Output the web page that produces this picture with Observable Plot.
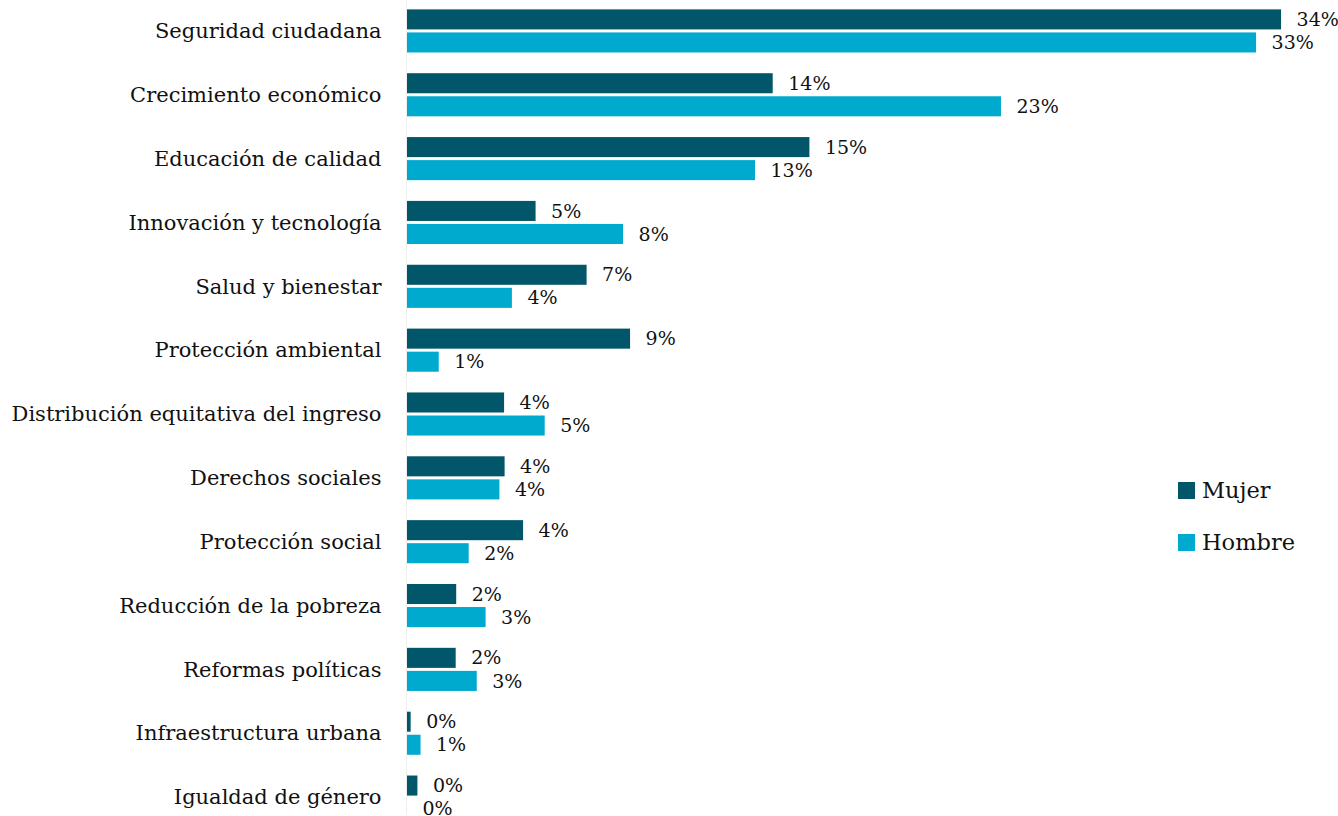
<!DOCTYPE html>
<html>
<head>
<meta charset="utf-8">
<script src="https://cdn.jsdelivr.net/npm/d3@7"></script>
<script src="https://cdn.jsdelivr.net/npm/@observablehq/plot@0.6"></script>
<style>
  html, body { margin: 0; padding: 0; background: #fff; overflow: hidden; }
  #wrap { position: relative; width: 1338px; height: 816px; }
  #chart svg { display: block; margin-top: -1px; }
  #legend { position: absolute; left: 1178px; top: 474px; font-family: "DejaVu Serif", serif; font-size: 22.5px; color: #111; }
  #legend .item { display: flex; align-items: center; height: 34px; margin-bottom: 18px; }
  #legend .sw { width: 17px; height: 17px; margin-right: 7px; }
</style>
</head>
<body>
<div id="wrap">
  <div id="chart"></div>
  <div id="legend"></div>
</div>
<script>
const categories = [
  "Seguridad ciudadana",
  "Crecimiento económico",
  "Educación de calidad",
  "Innovación y tecnología",
  "Salud y bienestar",
  "Protección ambiental",
  "Distribución equitativa del ingreso",
  "Derechos sociales",
  "Protección social",
  "Reducción de la pobreza",
  "Reformas políticas",
  "Infraestructura urbana",
  "Igualdad de género"
];
const series = ["Mujer", "Hombre"];
const colors = ["#02566a", "#00a9ce"];
const mujer  = [33.58, 14.05, 15.46, 4.94, 6.90, 8.57, 3.73, 3.75, 4.46, 1.89, 1.87, 0.14, 0.40];
const hombre = [32.62, 22.82, 13.37, 8.30, 4.03, 1.22, 5.29, 3.55, 2.37, 3.02, 2.68, 0.52, 0.00];

const data = [];
categories.forEach((c, i) => {
  data.push({cat: c, sex: "Mujer", value: mujer[i]});
  data.push({cat: c, sex: "Hombre", value: hombre[i]});
});

const font = "DejaVu Serif";

const chart = Plot.plot({
  width: 1338,
  height: 830,
  marginLeft: 407,
  marginRight: 20,
  marginTop: 0,
  marginBottom: 0,
  style: {fontFamily: font, fontSize: "21px", color: "#111", background: "#fff"},
  facet: {data, y: "cat"},
  fy: {domain: categories, padding: 0, round: false, label: null, axis: "left", tickSize: 0, tickPadding: 26},
  y: {domain: series, paddingInner: 0.13, paddingOuter: 0.45, round: false, axis: null},
  x: {domain: [0, 35], axis: null},
  color: {domain: series, range: colors},
  marks: [
    Plot.ruleX([0], {stroke: "#eeeeee", strokeWidth: 1, dx: -1}),
    Plot.barX(data, {y: "sex", x: "value", fill: "sex"}),
    Plot.text(data, {
      y: "sex", x: "value",
      text: d => Math.round(d.value) + "%",
      textAnchor: "start", dx: 15,
      fontSize: 19, fill: "#111"
    })
  ]
});
document.getElementById("chart").appendChild(chart);

const legend = document.getElementById("legend");
series.forEach((s, i) => {
  const item = document.createElement("div");
  item.className = "item";
  const sw = document.createElement("div");
  sw.className = "sw";
  sw.style.background = colors[i];
  const t = document.createElement("span");
  t.textContent = s;
  item.appendChild(sw);
  item.appendChild(t);
  legend.appendChild(item);
});
</script>
</body>
</html>
